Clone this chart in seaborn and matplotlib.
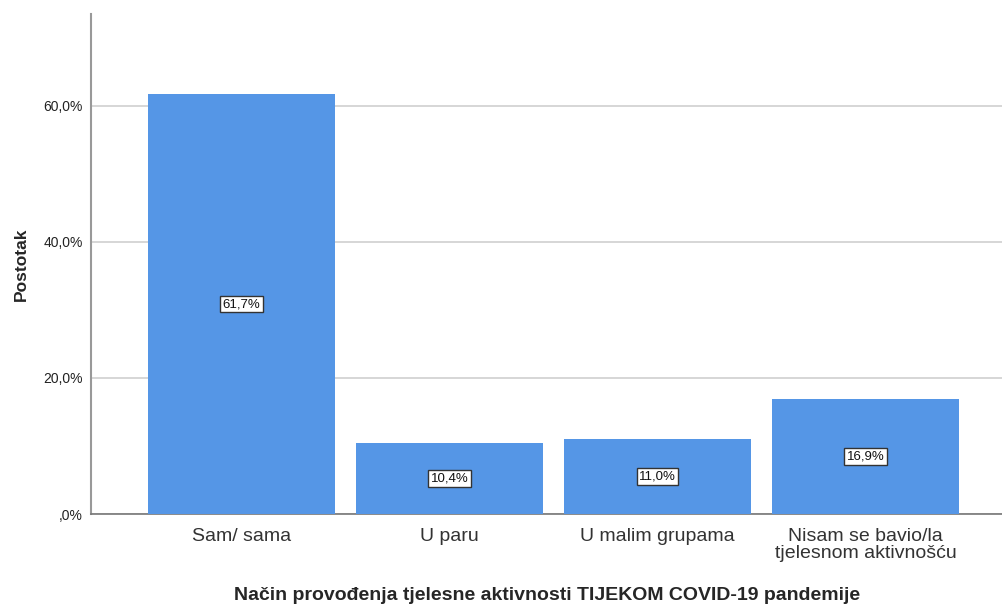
import pandas as pd
import matplotlib
matplotlib.use("Agg")
import matplotlib.pyplot as plt
import seaborn as sns

# Chart data
categories = ["Sam/ sama", "U paru", "U malim grupama", "Nisam se bavio/la\ntjelesnom aktivnošću"]
percentages = [61.7, 10.4, 11.0, 16.9]
bar_labels = ["61,7%", "10,4%", "11,0%", "16,9%"]
y_ticks = [0, 20, 40, 60]
y_tick_labels = [",0%", "20,0%", "40,0%", "60,0%"]

x_title = "Način provođenja tjelesne aktivnosti TIJEKOM COVID-19 pandemije"
y_title = "Postotak"


def main():
    sns.set_style("white")
    plt.rcParams["font.family"] = ["Liberation Sans", "DejaVu Sans"]

    df = pd.DataFrame({"cat": categories, "pct": percentages})

    fig = plt.figure(figsize=(10.03, 6.05), dpi=100)
    ax = fig.add_axes([91 / 1003, 1 - 514 / 605, 1 - 91 / 1003, (514 - 14) / 605])

    sns.barplot(data=df, x="cat", y="pct", color="#5596e6", saturation=1,
                width=0.9, ax=ax, zorder=3, edgecolor="#5596e6", linewidth=0)

    # value labels in white boxes at bar mid-height
    for i, (v, lab) in enumerate(zip(percentages, bar_labels)):
        ax.text(i, v / 2, lab, ha="center", va="center", fontsize=9.5, color="#111111",
                zorder=5,
                bbox=dict(boxstyle="square,pad=0.17", fc="white", ec="#333333", lw=1))

    ax.set_xlim(-0.7236, 3.661)
    ax.set_ylim(0, 73.5)
    ax.set_yticks(y_ticks)
    ax.set_yticklabels(y_tick_labels, fontsize=10, color="#222222")
    ax.yaxis.grid(True, color="#d0d0d0", lw=1.2, zorder=0)
    ax.set_axisbelow(True)
    ax.tick_params(axis="y", length=0, pad=6)
    ax.tick_params(axis="x", length=0, pad=10, labelsize=14, labelcolor="#333333")
    for t in ax.get_xticklabels():
        t.set_linespacing(1.0)

    for s in ["top", "right"]:
        ax.spines[s].set_visible(False)
    ax.spines["left"].set_color("#999999")
    ax.spines["left"].set_linewidth(1.5)
    ax.spines["bottom"].set_color("#777777")
    ax.spines["bottom"].set_linewidth(1.2)

    ax.set_xlabel(x_title, fontsize=14, fontweight="bold", labelpad=18)
    ax.set_ylabel(y_title, fontsize=12.5, fontweight="bold", labelpad=10)

    fig.savefig("out.png", dpi=100)


if __name__ == "__main__":
    main()
